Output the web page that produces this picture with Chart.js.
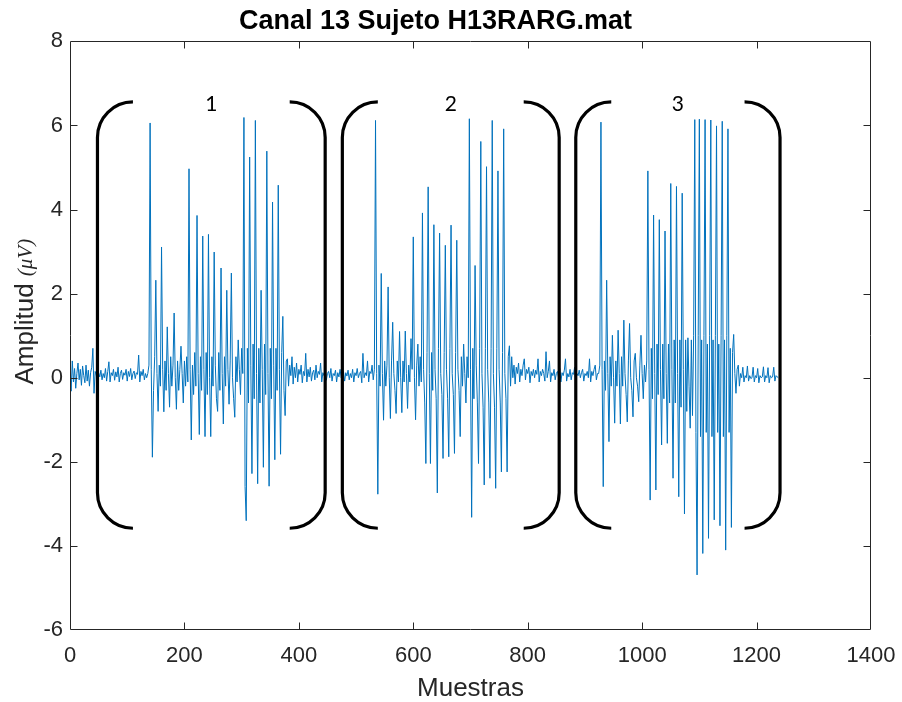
<!DOCTYPE html>
<html lang="es">
<head>
<meta charset="utf-8">
<title>Canal 13 Sujeto H13RARG.mat</title>
<script src="https://cdn.jsdelivr.net/npm/chart.js@4.4.1/dist/chart.umd.min.js"></script>
<style>
  html, body { margin: 0; padding: 0; background: #ffffff; }
  #lienzo { display: block; }
</style>
</head>
<body>
<canvas id="lienzo" width="902" height="702"></canvas>
<script>
// Señal EMG del canal 13, una muestra cada dos (paso = 2 muestras).
const paso = 2;

// Muestra inicial de cada tramo de la señal.
const inicioTramo = [0, 136, 380, 526, 772, 924, 1168];

// Reposo previo al primer grupo.
const reposoInicial = [
  0.15, -0.32, 0.4, -0.1, 0.22, -0.25, 0.1, 0.35, -0.05, 0.2,
  -0.18, 0.28, 0.05, -0.12, 0.3, -0.08, 0.18, -0.2, 0.12, 0.25,
  0.7, -0.37, 0.15, 0.05, -0.1, 0.12, 0.02, 0.18, -0.05, 0.1,
  0.0, 0.22, -0.08, 0.15, 0.38, -0.1, 0.12, 0.05, 0.2, -0.06,
  0.14, 0.02, 0.25, -0.1, 0.1, 0.18, -0.04, 0.12, 0.06, 0.2,
  -0.08, 0.15, 0.03, 0.22, -0.05, 0.1, 0.16, -0.02, 0.12, 0.08,
  0.54, -0.1, 0.15, 0.05, 0.2, -0.05, 0.1, 0.0
];

// Grupo 1 de potenciales.
const grupo1 = [
  0.1, 0.3, 6.06, 0.2, -1.89, -0.3, 0.5, 2.32, 0.1, -0.8,
  0.3, -0.2, 3.11, 0.2, -0.81, 0.4, -0.3, 1.21, 0.1, -0.7,
  0.5, -0.2, 0.3, 1.54, 0.0, -0.75, 0.4, -0.3, 0.2, 0.75,
  0.1, -0.6, 0.4, -0.2, 0.5, -0.1, 4.97, 0.2, -1.48, 0.3,
  -0.4, 0.6, -0.2, 3.86, 0.1, -1.35, 0.5, -0.3, 3.37, 0.2,
  -1.4, 0.6, -0.4, 3.41, 0.0, -1.4, 0.5, -0.2, 2.99, 0.3,
  -0.5, -0.8, 0.6, -0.3, 2.61, 0.1, -1.1, 0.5, -0.2, 2.08,
  0.2, -0.63, 0.4, 2.49, 0.0, -0.5, -0.94, 0.5, -0.1, 0.9,
  0.2, -0.4, 0.7, 0.1, 6.19, -2.59, -3.4, 0.7, -0.6, 5.25,
  0.3, -2.28, 0.8, -0.5, 6.12, 0.1, -2.52, 0.7, -0.6, 2.08,
  0.2, -2.13, 0.8, -0.4, 5.39, 0.1, -2.58, 0.7, -0.5, 4.18,
  0.3, -1.95, 0.7, -0.3, 4.58, 0.2, -1.82, 0.6, 1.46, -0.3,
  -0.9, 0.4
];

// Reposo entre los grupos 1 y 2.
const reposo1 = [
  0.45, -0.2, 0.3, 0.05, 0.5, -0.15, 0.25, 0.0, 0.35, -0.1,
  0.2, 0.08, 0.3, -0.12, 0.15, 0.05, 0.58, -0.1, 0.2, 0.02,
  0.25, -0.08, 0.12, 0.18, -0.05, 0.3, 0.0, 0.15, 0.08, 0.35,
  -0.1, 0.12, 0.05, 0.2, -0.06, 0.1, 0.15, 0.0, 0.22, -0.08,
  0.1, 0.05, 0.18, -0.1, 0.12, 0.02, 0.2, 0.0, 0.1, 0.15,
  -0.08, 0.12, 0.04, 0.18, -0.05, 0.1, 0.0, 0.2, -0.1, 0.12,
  0.05, 0.22, 0.0, 0.1, 0.15, -0.12, 0.58, 0.0, 0.12, 0.05,
  0.4, -0.1, 0.15
];

// Grupo 2 de potenciales.
const grupo2 = [
  0.1, 0.3, -0.05, 0.2, 6.12, 0.1, -2.77, 0.3, -0.2, 2.48,
  0.1, -1.01, 0.4, -0.2, 0.3, 2.16, 0.0, -0.97, 0.4, 1.32,
  0.1, -0.3, -0.85, 0.4, -0.1, 1.1, 0.0, -0.83, 0.4, -0.1,
  1.11, 0.1, -0.73, 0.3, -0.1, 0.93, 0.2, 3.35, 0.0, -1.0,
  0.3, 0.8, -0.2, 0.5, -0.1, 3.92, 0.2, -0.6, -2.04, 0.6,
  4.54, 0.1, -2.04, 0.6, -0.3, 3.64, 0.2, -0.5, -2.74, 0.7,
  3.44, 0.1, -0.4, -1.92, 0.6, 3.15, 0.2, -0.5, -1.88, 0.7,
  3.63, 0.1, -0.4, -1.8, 0.6, 3.27, 0.2, -0.3, -1.4, 0.5,
  -0.2, 0.8, 0.1, -0.6, 0.5, 0.0, 6.16, 0.2, -3.32, 0.7,
  -0.5, 2.67, 0.3, -0.6, -2.04, 0.7, 5.62, 0.1, -0.7, -2.55,
  0.7, 5.02, 0.2, -0.6, -2.39, 0.7, 6.12, 0.1, -0.7, -2.63,
  0.7, 4.92, 0.2, -0.6, -2.24, 0.6, 5.92, 0.1, -0.5, -2.24,
  0.5, 0.76, -0.2
];

// Reposo entre los grupos 2 y 3.
const reposo2 = [
  0.5, 0.0, 0.3, -0.15, 0.25, 0.1, 0.35, -0.1, 0.2, 0.05,
  0.3, 0.45, -0.05, 0.2, 0.1, 0.25, -0.12, 0.15, 0.05, 0.2,
  0.0, 0.18, 0.08, 0.45, -0.1, 0.15, 0.05, 0.2, 0.1, -0.08,
  0.62, 0.0, 0.15, 0.4, -0.1, 0.12, 0.05, 0.2, -0.05, 0.1,
  0.15, 0.0, 0.22, -0.1, 0.12, 0.05, 0.18, 0.45, -0.08, 0.1,
  0.02, 0.2, -0.05, 0.12, 0.08, 0.25, -0.1, 0.1, 0.05, 0.18,
  0.0, 0.12, 0.2, -0.08, 0.1, 0.05, 0.15, 0.0, 0.45, -0.1,
  0.15, 0.05, 0.2, 0.3, -0.05, 0.1
];

// Grupo 3 de potenciales.
const grupo3 = [
  0.1, 0.3, 6.08, 0.2, -2.59, 0.4, -0.3, 2.32, 0.1, -1.52,
  0.5, -0.2, 1.01, 0.0, -1.08, 0.4, -0.2, 1.13, 0.1, -1.1,
  0.5, -0.2, 1.37, 0.1, -0.4, -1.05, 0.4, 1.29, 0.0, -0.3,
  -0.93, 0.4, 0.58, 0.0, -0.2, -0.57, 0.3, 1.01, 0.1, -0.5,
  0.3, -0.1, 0.4, 4.92, 0.2, -2.91, 0.7, -0.5, 3.87, 0.1,
  -2.67, 0.8, -0.4, 3.76, 0.2, -1.6, 0.8, -0.5, 3.49, 0.1,
  -1.56, 0.8, -0.6, 4.62, 0.2, -2.39, 0.9, -0.6, 4.55, 0.1,
  -2.83, 0.9, -0.7, 4.39, 0.2, -3.24, 0.9, -0.8, 0.95, -0.2,
  -1.2, 0.9, -0.9, 1.0, 6.14, -1.3, -4.69, 1.0, 6.15, -1.4,
  0.9, -4.18, 1.0, 6.14, -1.3, 0.8, -3.82, 1.0, 6.13, -1.4,
  0.9, -3.38, 1.0, 5.99, -1.3, 0.8, -3.52, 1.0, 6.1, -1.4,
  0.9, -4.1, 1.0, 5.92, -1.3, 0.7, -3.56, 0.6, 1.03, 0.1,
  -0.37, 0.2
];

// Reposo final.
const reposoFinal = [
  0.3, -0.2, 0.1, 0.0, 0.25, -0.1, 0.05, 0.0, 0.28, -0.08,
  0.05, -0.02, 0.0, 0.25, -0.1, 0.05, 0.0, 0.22, -0.12, 0.05,
  0.0, 0.02, 0.26, -0.1, 0.05, 0.0, 0.24, -0.12, 0.05, 0.0,
  0.02, 0.25, -0.08, 0.05, 0.02, 0.0
];

// Grupos marcados con corchetes (en muestras y µV).
const etiquetasGrupo = ['1', '2', '3'];
const inicioGrupo = [48, 476, 884];
const finGrupo = [446, 855, 1241];
const corcheteArriba = 6.56;
const corcheteAbajo = -3.58;
const alaCorchete = 62;

// Marcas de los ejes.
const marcasX = [0, 200, 400, 600, 800, 1000, 1200, 1400];
const marcasY = [-6, -4, -2, 0, 2, 4, 6, 8];

const tramos = [reposoInicial, grupo1, reposo1, grupo2, reposo2, grupo3, reposoFinal];
const puntos = tramos.flatMap((tramo, i) =>
  tramo.map((v, k) => ({ x: inicioTramo[i] + paso * k, y: v })));

const colorEje = '#262626';
const fuente = "'Liberation Sans', Arial, Helvetica, sans-serif";

// Marco completo con marcas hacia dentro en los cuatro lados.
const marco = {
  id: 'marco',
  afterDatasetsDraw(chart) {
    const { ctx, chartArea: a, scales: { x, y } } = chart;
    const L = Math.round(a.left) + 0.5, R = Math.round(a.right) - 0.5;
    const T = Math.round(a.top) + 0.5, B = Math.round(a.bottom) - 0.5;
    const largo = 7;
    ctx.save();
    ctx.strokeStyle = colorEje;
    ctx.lineWidth = 1;
    ctx.beginPath();
    ctx.rect(L, T, R - L, B - T);
    marcasX.slice(1, -1).forEach(v => {
      const px = Math.round(x.getPixelForValue(v)) + 0.5;
      ctx.moveTo(px, B); ctx.lineTo(px, B - largo);
      ctx.moveTo(px, T); ctx.lineTo(px, T + largo);
    });
    marcasY.slice(1, -1).forEach(v => {
      const py = Math.round(y.getPixelForValue(v)) + 0.5;
      ctx.moveTo(L, py); ctx.lineTo(L + largo, py);
      ctx.moveTo(R, py); ctx.lineTo(R - largo, py);
    });
    ctx.stroke();
    ctx.restore();
  }
};

// Corchetes alrededor de cada grupo y su número.
const corchetes = {
  id: 'corchetes',
  afterDraw(chart) {
    const { ctx, scales: { x, y } } = chart;
    const yA = y.getPixelForValue(corcheteArriba);
    const yB = y.getPixelForValue(corcheteAbajo);
    ctx.save();
    ctx.strokeStyle = '#000000';
    ctx.lineWidth = 3.2;
    etiquetasGrupo.forEach((et, i) => {
      const xi = x.getPixelForValue(inicioGrupo[i]);
      const xf = x.getPixelForValue(finGrupo[i]);
      const r = x.getPixelForValue(inicioGrupo[i] + alaCorchete) - xi;
      ctx.beginPath();
      ctx.arc(xi + r, yA + r, r, -Math.PI / 2, Math.PI, true);
      ctx.lineTo(xi, yB - r);
      ctx.arc(xi + r, yB - r, r, Math.PI, Math.PI / 2, true);
      ctx.stroke();
      ctx.beginPath();
      ctx.arc(xf - r, yA + r, r, -Math.PI / 2, 0, false);
      ctx.lineTo(xf, yB - r);
      ctx.arc(xf - r, yB - r, r, 0, Math.PI / 2, false);
      ctx.stroke();
      ctx.fillStyle = '#000000';
      ctx.font = "21px Lato, 'Open Sans', sans-serif";
      ctx.textAlign = 'center';
      ctx.textBaseline = 'middle';
      ctx.fillText(et, (xi + xf) / 2, yA + 2);
    });

    // Título del eje vertical: Amplitud (μV)
    const a = chart.chartArea;
    const t1 = 'Amplitud ';
    const t2 = '(\u03bcV)';
    const f1 = '26px ' + fuente;
    const f2 = "italic 21px 'Liberation Serif', 'DejaVu Serif', serif";
    ctx.font = f1; const w1 = ctx.measureText(t1).width;
    ctx.font = f2; const w2 = ctx.measureText(t2).width;
    const centro = (a.top + a.bottom) / 2 - 24;
    ctx.translate(26, centro + (w1 + w2) / 2);
    ctx.rotate(-Math.PI / 2);
    ctx.fillStyle = colorEje;
    ctx.textAlign = 'left';
    ctx.textBaseline = 'middle';
    ctx.font = f1; ctx.fillText(t1, 0, 0);
    ctx.font = f2; ctx.fillText(t2, w1, 0);
    ctx.restore();
  }
};

new Chart(document.getElementById('lienzo'), {
  type: 'line',
  data: {
    datasets: [{
      data: puntos,
      borderColor: '#0072BD',
      borderWidth: 1,
      pointRadius: 0,
      tension: 0,
      fill: false
    }]
  },
  options: {
    responsive: false,
    animation: false,
    parsing: false,
    normalized: true,
    layout: { padding: { top: 0, right: 31, bottom: 0, left: 0 } },
    plugins: {
      legend: { display: false },
      tooltip: { enabled: false },
      title: {
        display: true,
        text: 'Canal 13 Sujeto H13RARG.mat',
        color: '#000000',
        font: { family: fuente, size: 27, weight: 'bold' },
        padding: { top: 5, bottom: 4 }
      }
    },
    scales: {
      x: {
        type: 'linear',
        min: 0, max: 1400,
        grid: { display: false, drawTicks: false },
        border: { display: false },
        afterBuildTicks: s => { s.ticks = marcasX.map(v => ({ value: v })); },
        ticks: {
          color: colorEje, padding: 13, maxRotation: 0, autoSkip: false,
          font: { family: fuente, size: 22 },
          callback: v => String(v)
        },
        title: {
          display: true, text: 'Muestras', color: colorEje,
          font: { family: fuente, size: 26 },
          padding: { top: 0, bottom: -2 }
        },
        afterFit: s => { s.height = 72; s.paddingLeft = 0; s.paddingRight = 0; }
      },
      y: {
        type: 'linear',
        min: -6, max: 8,
        grid: { display: false, drawTicks: false },
        border: { display: false },
        afterBuildTicks: s => { s.ticks = marcasY.map(v => ({ value: v })); },
        ticks: {
          color: colorEje, padding: 7,
          font: { family: fuente, size: 22 },
          callback: v => String(v)
        },
        afterFit: s => { s.width = 70; s.paddingTop = 0; s.paddingBottom = 0; }
      }
    }
  },
  plugins: [marco, corchetes]
});
</script>
</body>
</html>
